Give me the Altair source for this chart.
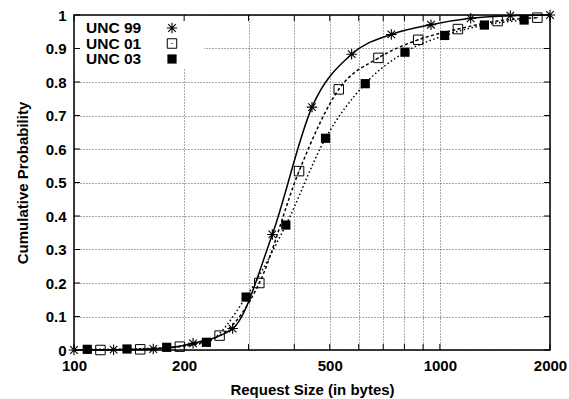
import altair as alt
import pandas as pd

# ---- data ----
series_names = ["UNC 99", "UNC 01", "UNC 03"]
x_unc99 = [100, 128.3, 164.7, 211.5, 271.4, 348.4, 447.2, 574.0, 736.8, 945.7, 1213.9, 1558.2, 2000]
y_unc99 = [0.0, 0.001, 0.003, 0.02, 0.064, 0.345, 0.725, 0.883, 0.942, 0.971, 0.99, 0.998, 1.0]
x_unc01 = [118.1, 151.7, 194.7, 250.0, 321.0, 412.2, 529.2, 679.5, 872.5, 1120.3, 1438.4, 1847.0]
y_unc01 = [0.0, 0.002, 0.01, 0.043, 0.2, 0.534, 0.778, 0.872, 0.926, 0.958, 0.982, 0.992]
x_unc03 = [108.7, 139.6, 179.2, 230.1, 295.4, 379.3, 487.0, 625.3, 802.9, 1030.9, 1323.6, 1699.5]
y_unc03 = [0.002, 0.003, 0.008, 0.023, 0.158, 0.373, 0.632, 0.795, 0.889, 0.939, 0.970, 0.985]

xtick_values = [100, 200, 300, 400, 500, 600, 700, 800, 900, 1000, 2000]
xlabel_values = [100, 200, 500, 1000, 2000]
ytick_values = [0, 0.1, 0.2, 0.3, 0.4, 0.5, 0.6, 0.7, 0.8, 0.9, 1]

rows = []
for name, xs, ys in zip(series_names, [x_unc99, x_unc01, x_unc03], [y_unc99, y_unc01, y_unc03]):
    for a, b in zip(xs, ys):
        rows.append({"series": name, "size": a, "prob": b})
df = pd.DataFrame(rows)

W, H = 476, 335
FONT = "Liberation Sans"
XTITLE = "Request Size (in bytes)"
YTITLE = "Cumulative Probability"

xscale = alt.Scale(type="log", domain=[100, 2000], nice=False)
yscale = alt.Scale(domain=[0, 1], nice=False, zero=False)

common_axis = dict(
    domain=False, ticks=False, tickSize=0, grid=True, gridColor="#555555",
    gridDash=[1, 2], gridWidth=1, labelFont=FONT, labelFontWeight="bold",
    labelFontSize=15, labelColor="black", titleFont=FONT, titleFontWeight="bold",
    titleFontSize=15, titleColor="black", labelPadding=8,
)
x_axis = alt.Axis(
    values=xtick_values,
    labelExpr="indexof(" + str(xlabel_values) + ", datum.value) >= 0 ? '' + datum.value : ''",
    labelFlush=False, labelOverlap=False, titlePadding=9, **common_axis,
)
y_axis = alt.Axis(
    values=ytick_values,
    labelExpr="datum.value == 0 ? '0' : datum.value == 1 ? '1' : format(datum.value, '.1f')",
    labelOverlap=False, titlePadding=15, **common_axis,
)

X = alt.X("size:Q", scale=xscale, axis=x_axis, title=XTITLE)
Y = alt.Y("prob:Q", scale=yscale, axis=y_axis, title=YTITLE)

ASTER = "M-1,0L1,0M0,-1L0,1M-0.72,-0.72L0.72,0.72M-0.72,0.72L0.72,-0.72"
BOXDOT = "M-1,-1L1,-1L1,1L-1,1ZM-0.12,0L0.12,0"

styles = {
    "UNC 99": dict(line=dict(), point=dict(shape=ASTER, filled=False, stroke="black", strokeWidth=1.1, size=110)),
    "UNC 01": dict(line=dict(strokeDash=[3, 2.5]), point=dict(shape=BOXDOT, filled=False, stroke="black", strokeWidth=1, size=90)),
    "UNC 03": dict(line=dict(strokeDash=[1.5, 2.5]), point=dict(shape="square", filled=True, color="black", size=85)),
}

layers = []
for name in series_names:
    st = styles[name]
    layers.append(
        alt.Chart(df).transform_filter(alt.datum.series == name)
        .mark_line(color="black", strokeWidth=1.5, interpolate="monotone", **st["line"])
        .encode(x=X, y=Y)
    )

# white box behind the key (hides the grid there)
legend_bg = alt.Chart(pd.DataFrame({"k": [0]})).mark_rect(color="white").encode(
    x=alt.value(0.5), x2=alt.value(130), y=alt.value(0.5), y2=alt.value(53)
)
layers.append(legend_bg)

for name in series_names:
    st = styles[name]
    layers.append(
        alt.Chart(df).transform_filter(alt.datum.series == name)
        .mark_point(opacity=1, **st["point"])
        .encode(x=X, y=Y)
    )

# inward ticks on all four sides
xt = pd.DataFrame({"v": xtick_values})
yt = pd.DataFrame({"v": ytick_values})
XT = alt.X("v:Q", scale=xscale, axis=x_axis, title=XTITLE)
YT = alt.Y("v:Q", scale=yscale, axis=y_axis, title=YTITLE)
layers += [
    alt.Chart(xt).mark_rule(color="black", strokeWidth=1).encode(x=XT, y=alt.value(H), y2=alt.value(H - 6)),
    alt.Chart(xt).mark_rule(color="black", strokeWidth=1).encode(x=XT, y=alt.value(0), y2=alt.value(6)),
    alt.Chart(yt).mark_rule(color="black", strokeWidth=1).encode(y=YT, x=alt.value(0), x2=alt.value(6)),
    alt.Chart(yt).mark_rule(color="black", strokeWidth=1).encode(y=YT, x=alt.value(W), x2=alt.value(W - 6)),
]

# plot border
layers.append(
    alt.Chart(pd.DataFrame({"k": [0]})).mark_rect(filled=False, stroke="black", strokeWidth=1.5).encode(
        x=alt.value(0), x2=alt.value(W), y=alt.value(0), y2=alt.value(H)
    )
)

# key
for i, name in enumerate(series_names):
    ypix = 13 + 15.5 * i
    layers.append(
        alt.Chart(pd.DataFrame({"label": [name]})).mark_text(
            align="left", baseline="middle", font=FONT, fontSize=15.5, fontWeight="bold", color="black"
        ).encode(text="label:N", x=alt.value(12), y=alt.value(ypix))
    )
    layers.append(
        alt.Chart(pd.DataFrame({"label": [name]})).mark_point(opacity=1, **styles[name]["point"]).encode(
            x=alt.value(98), y=alt.value(ypix)
        )
    )

chart = alt.layer(*layers).properties(
    width=W, height=H,
    padding={"left": 74, "top": 15, "right": 19, "bottom": 49},
    autosize=alt.AutoSizeParams(type="none"),
    background="white",
).configure_view(stroke=None)

chart.save("out.html", embed_options={"renderer": "svg", "actions": False})
